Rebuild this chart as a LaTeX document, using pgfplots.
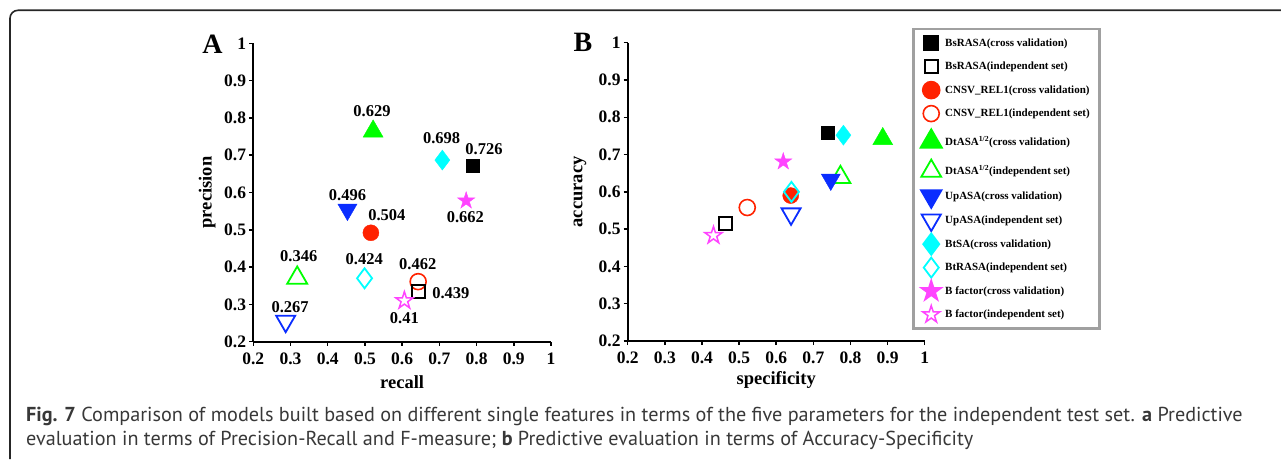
\documentclass[border=0pt]{standalone}
\usepackage{fontspec}
\setmainfont{Liberation Serif}
\newfontfamily\capfont{PT Sans}
\usepackage{pgfplots}
\pgfplotsset{compat=1.18}
\definecolor{cred}{RGB}{255,34,0}
\definecolor{cgreen}{RGB}{0,255,0}
\definecolor{cblue}{RGB}{10,45,255}
\definecolor{ccyan}{RGB}{0,255,255}
\definecolor{cmag}{RGB}{255,68,255}
\definecolor{legborder}{RGB}{160,160,160}
\pgfdeclareplotmark{fivestar}{%
  \pgfpathmoveto{\pgfqpointpolar{90}{\pgfplotmarksize}}%
  \pgfpathlineto{\pgfqpointpolar{126}{0.382\pgfplotmarksize}}%
  \pgfpathlineto{\pgfqpointpolar{162}{\pgfplotmarksize}}%
  \pgfpathlineto{\pgfqpointpolar{198}{0.382\pgfplotmarksize}}%
  \pgfpathlineto{\pgfqpointpolar{234}{\pgfplotmarksize}}%
  \pgfpathlineto{\pgfqpointpolar{270}{0.382\pgfplotmarksize}}%
  \pgfpathlineto{\pgfqpointpolar{306}{\pgfplotmarksize}}%
  \pgfpathlineto{\pgfqpointpolar{342}{0.382\pgfplotmarksize}}%
  \pgfpathlineto{\pgfqpointpolar{18}{\pgfplotmarksize}}%
  \pgfpathlineto{\pgfqpointpolar{54}{0.382\pgfplotmarksize}}%
  \pgfpathclose
  \pgfusepathqstroke}
\pgfdeclareplotmark{fivestar*}{%
  \pgfpathmoveto{\pgfqpointpolar{90}{\pgfplotmarksize}}%
  \pgfpathlineto{\pgfqpointpolar{126}{0.382\pgfplotmarksize}}%
  \pgfpathlineto{\pgfqpointpolar{162}{\pgfplotmarksize}}%
  \pgfpathlineto{\pgfqpointpolar{198}{0.382\pgfplotmarksize}}%
  \pgfpathlineto{\pgfqpointpolar{234}{\pgfplotmarksize}}%
  \pgfpathlineto{\pgfqpointpolar{270}{0.382\pgfplotmarksize}}%
  \pgfpathlineto{\pgfqpointpolar{306}{\pgfplotmarksize}}%
  \pgfpathlineto{\pgfqpointpolar{342}{0.382\pgfplotmarksize}}%
  \pgfpathlineto{\pgfqpointpolar{18}{\pgfplotmarksize}}%
  \pgfpathlineto{\pgfqpointpolar{54}{0.382\pgfplotmarksize}}%
  \pgfpathclose
  \pgfusepathqfillstroke}
\pgfplotsset{
  myaxis/.style={
    scale only axis, clip=false,
    xmin=0.2, xmax=1, ymin=0.2, ymax=1,
    xtick={0.2,0.3,0.4,0.5,0.6,0.7,0.8,0.9,1},
    xticklabels={0.2,0.3,0.4,0.5,0.6,0.7,0.8,0.9,1},
    ytick={0.2,0.3,0.4,0.5,0.6,0.7,0.8,0.9,1},
    yticklabels={0.2,0.3,0.4,0.5,0.6,0.7,0.8,0.9,1},
    axis lines=left, axis line style={-, line width=2pt, black},
    tick style={black, line width=1.5pt}, major tick length=4pt, tick align=outside,
    xticklabel style={font=\fontsize{17.5}{17.5}\selectfont\bfseries, inner sep=3pt, yshift=-4pt},
    yticklabel style={font=\fontsize{17.5}{17.5}\selectfont\bfseries, inner sep=3pt},
    label style={font=\fontsize{18.5}{18.5}\selectfont\bfseries},
    only marks,
  },
  bscv/.style={mark=square*, mark size=6.5pt, draw=black, fill=black},
  bsind/.style={mark=square, mark size=6.5pt, draw=black, mark options={line width=2pt}},
  cncv/.style={mark=*, mark size=8pt, draw=cred, fill=cred},
  cnind/.style={mark=o, mark size=8pt, draw=cred, mark options={line width=1.6pt}},
  dtcv/.style={mark=triangle*, mark size=11.5pt, draw=cgreen, fill=cgreen},
  dtind/.style={mark=triangle, mark size=11.5pt, draw=cgreen, mark options={line width=1.8pt}},
  upcv/.style={mark=triangle*, mark size=11pt, draw=cblue, fill=cblue, mark options={rotate=180}},
  upind/.style={mark=triangle, mark size=11pt, draw=cblue, mark options={rotate=180, line width=1.8pt}},
  btcv/.style={mark=diamond*, mark size=10pt, draw=ccyan, fill=ccyan},
  btind/.style={mark=diamond, mark size=10pt, draw=ccyan, mark options={line width=1.8pt}},
  bfcv/.style={mark=fivestar*, mark size=9pt, draw=cmag, fill=cmag},
  bfind/.style={mark=fivestar, mark size=9pt, draw=cmag, mark options={line width=1.5pt}},
}
\tikzset{vlab/.style={font=\fontsize{16.5}{16.5}\selectfont\bfseries, inner sep=0pt}}
\begin{document}
\begin{tikzpicture}[x=1pt,y=1pt]
\path[use as bounding box] (0,0) rectangle (1281,459);
\draw[line width=1.6pt, black!85, rounded corners=8pt] (10,0) -- (10,448.7) -- (1290,448.7);

% Panel A
\begin{axis}[myaxis, at={(253.3pt,117.3pt)}, anchor=south west, width=297.7pt, height=298.4pt,
  xlabel={recall}, ylabel={precision},
  xlabel style={at={(axis description cs:0.5,-0.135)}, anchor=center},
  ylabel style={at={(axis description cs:-0.155,0.5)}, anchor=center}]
\addplot[bscv] coordinates {(0.790,0.671)};
\addplot[cnind] coordinates {(0.643,0.361)};
\addplot[bsind] coordinates {(0.643,0.334)};
\addplot[cncv] coordinates {(0.516,0.492)};
\addplot[dtcv] coordinates {(0.522,0.764)};
\addplot[dtind] coordinates {(0.318,0.371)};
\addplot[upcv] coordinates {(0.453,0.554)};
\addplot[upind] coordinates {(0.287,0.255)};
\addplot[btcv] coordinates {(0.708,0.687)};
\addplot[btind] coordinates {(0.499,0.370)};
\addplot[bfcv] coordinates {(0.772,0.578)};
\addplot[bfind] coordinates {(0.606,0.310)};
\node[vlab] at (axis cs:0.519,0.819) {0.629};
\node[vlab] at (axis cs:0.706,0.747) {0.698};
\node[vlab] at (axis cs:0.820,0.717) {0.726};
\node[vlab] at (axis cs:0.770,0.535) {0.662};
\node[vlab] at (axis cs:0.453,0.593) {0.496};
\node[vlab] at (axis cs:0.559,0.540) {0.504};
\node[vlab] at (axis cs:0.322,0.430) {0.346};
\node[vlab] at (axis cs:0.498,0.421) {0.424};
\node[vlab] at (axis cs:0.642,0.407) {0.462};
\node[vlab] at (axis cs:0.731,0.330) {0.439};
\node[vlab] at (axis cs:0.606,0.264) {0.41};
\node[vlab] at (axis cs:0.299,0.294) {0.267};
\end{axis}
\node[font=\fontsize{28}{28}\selectfont\bfseries] at (212.5,415) {A};

% Panel B
\begin{axis}[myaxis, at={(627.7pt,118pt)}, anchor=south west, width=297pt, height=298.3pt,
  xlabel={specificity}, ylabel={accuracy},
  xlabel style={at={(axis description cs:0.5,-0.131)}, anchor=center},
  ylabel style={at={(axis description cs:-0.161,0.5)}, anchor=center},
  legend style={at={(axis description cs:0.957,1.050)}, anchor=north west,
    draw=legborder, line width=2.6pt, fill=white, inner xsep=8pt, inner ysep=3.5pt,
    row sep=2.5pt, column sep=2pt,
    font=\fontsize{11}{13}\selectfont\bfseries, cells={anchor=west}},
  legend image code/.code={\draw[#1] plot coordinates {(0pt,0pt)};
    \path[draw=none, fill=none] (-10pt,-10.5pt) rectangle (10pt,10.5pt);}]
\addplot[bscv] coordinates {(0.738,0.759)};
\addlegendentry{BsRASA(cross validation)}
\addplot[bsind] coordinates {(0.463,0.516)};
\addlegendentry{BsRASA(independent set)}
\addplot[cncv] coordinates {(0.639,0.590)};
\addlegendentry{CNSV\_REL1(cross validation)}
\addplot[cnind] coordinates {(0.522,0.558)};
\addlegendentry{CNSV\_REL1(independent set)}
\addplot[dtcv] coordinates {(0.887,0.742)};
\addlegendentry[minimum height=30pt]{DtASA\textsuperscript{1/2}(cross validation)}
\addplot[dtind] coordinates {(0.773,0.639)};
\addlegendentry[minimum height=24pt]{DtASA\textsuperscript{1/2}(independent set)}
\addplot[upcv] coordinates {(0.747,0.633)};
\addlegendentry{UpASA(cross validation)}
\addplot[upind] coordinates {(0.640,0.541)};
\addlegendentry{UpASA(independent set)}
\addplot[btcv] coordinates {(0.781,0.752)};
\addlegendentry{BtSA(cross validation)}
\addplot[btind] coordinates {(0.641,0.600)};
\addlegendentry{BtRASA(independent set)}
\addplot[bfcv] coordinates {(0.619,0.681)};
\addlegendentry{B factor(cross validation)}
\addplot[bfind] coordinates {(0.431,0.483)};
\addlegendentry{B factor(independent set)}
\end{axis}
\node[font=\fontsize{28}{28}\selectfont\bfseries] at (583,416.5) {B};

% Caption
\node[anchor=base west, inner sep=0pt, font=\capfont\fontsize{20.2}{20.2}\selectfont, text=black!78] at (26,37.3)
  {\textbf{Fig. 7} Comparison of models built based on different single features in terms of the five parameters for the independent test set. \textbf{a} Predictive};
\node[anchor=base west, inner sep=0pt, font=\capfont\fontsize{20.2}{20.2}\selectfont, text=black!78] at (26,14)
  {evaluation in terms of Precision-Recall and F-measure; \textbf{b} Predictive evaluation in terms of Accuracy-Specificity};
\end{tikzpicture}
\end{document}
